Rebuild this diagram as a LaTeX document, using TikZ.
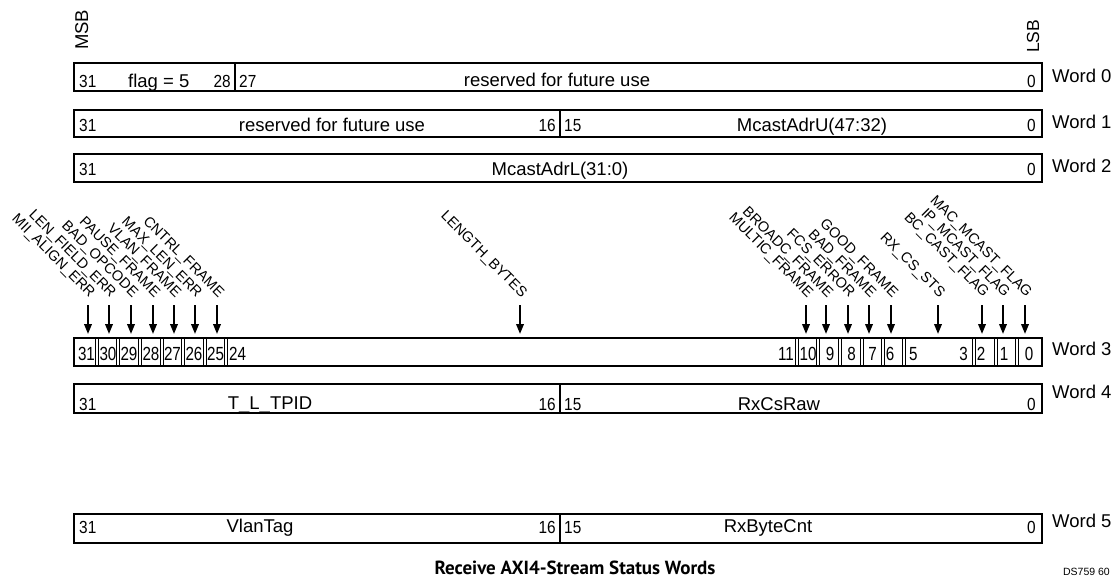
\documentclass[tikz,border=0pt]{standalone}
\usepackage{fontspec}
\setmainfont{Liberation Sans}
\newfontfamily\digfont{Liberation Sans}[FakeStretch=0.88]
\newfontfamily\digfontw{Liberation Sans}[FakeStretch=0.8]
\newfontfamily\capfont{PT Sans}
\usetikzlibrary{arrows.meta}
\begin{document}
\begin{tikzpicture}[x=1pt,y=-1pt,
  wordbox/.style={line width=2.2pt},
  divider/.style={line width=2.2pt},
  cellsep/.style={double, line width=1pt, double distance=1.1pt},
  main/.style={inner sep=0pt, font=\fontsize{18.5}{20}\selectfont},
  dig/.style={inner sep=0pt, font=\digfont\fontsize{17.5}{18}\selectfont},
  digw/.style={inner sep=0pt, font=\digfontw\fontsize{19}{20}\selectfont},
  rotlbl/.style={inner sep=0pt, rotate=-45, font=\fontsize{14.5}{15}\selectfont},
  arr/.style={line width=2pt, -{Triangle[length=10pt,width=7.5pt]}}]
\useasboundingbox (0,0) rectangle (1117,579);

% MSB / LSB
\node[main, rotate=90, anchor=base west] (msb) at (88,50) {MSB};
\node[main, rotate=90, anchor=base west, font=\fontsize{17.5}{19}\selectfont] (lsb) at (1039,53) {LSB};

% Word 0
\draw[wordbox] (74,63) rectangle (1042,91);
\draw[divider] (235,63) -- (235,91);
\node[dig, anchor=base west] (w0a) at (79,87) {31};
\node[main, anchor=base west] (w0b) at (128,87) {flag = 5};
\node[dig, anchor=base east] (w0c) at (231,87) {28};
\node[dig, anchor=base west] (w0d) at (239,87) {27};
\node[main, anchor=base] (w0e) at (557,86) {reserved for future use};
\node[dig, anchor=base east] (w0f) at (1036,87) {0};
\node[main, anchor=base west] (word0) at (1052,82) {Word 0};

% Word 1
\draw[wordbox] (74,110) rectangle (1042,137);
\draw[divider] (560,110) -- (560,137);
\node[dig, anchor=base west] (w1a) at (79,131) {31};
\node[main, anchor=base] (w1b) at (332,131) {reserved for future use};
\node[dig, anchor=base east] (w1c) at (556,131) {16};
\node[dig, anchor=base west] (w1d) at (564,131) {15};
\node[main, anchor=base] (w1e) at (812,131) {McastAdrU(47:32)};
\node[dig, anchor=base east] (w1f) at (1036,131) {0};
\node[main, anchor=base west] (word1) at (1052,128) {Word 1};

% Word 2
\draw[wordbox] (74,154) rectangle (1042,182);
\node[dig, anchor=base west] (w2a) at (79,175) {31};
\node[main, anchor=base] (w2b) at (560,175) {McastAdrL(31:0)};
\node[dig, anchor=base east] (w2c) at (1036,175) {0};
\node[main, anchor=base west] (word2) at (1052,172) {Word 2};

% Word 3
\foreach \xx in {97,118,140,162,183,205,226,797,818,840,862,883,904,974,996,1017}
  \draw[cellsep] (\xx,338) -- (\xx,366);
\draw[wordbox] (74,338) rectangle (1042,366);
\foreach \n/\xx in {31/86.5,30/108,29/129,28/151,27/172.5,26/194,25/215.5,10/808,9/830,8/851.5,7/872.5,6/890,2/981,1/1004,0/1029}
  \node[digw, anchor=base] (c\n) at (\xx,360) {\n};
\node[digw, anchor=base west] (c24) at (229,360) {24};
\node[digw, anchor=base east] (c11) at (794,360) {11};
\node[digw, anchor=base west] (c5) at (909,360) {5};
\node[digw, anchor=base east] (c3) at (968,360) {3};
\node[main, anchor=base west] (word3) at (1052,355) {Word 3};

% field labels and arrows of Word 3
\foreach \n/\xx/\txt in {
  b31/88/MII\_ALIGN\_ERR, b30/109/LEN\_FIELD\_ERR, b29/131/BAD\_OPCODE,
  b28/153/PAUSE\_FRAME, b27/174/VLAN\_FRAME, b26/195/MAX\_LEN\_ERR,
  b25/217/CNTRL\_FRAME, blen/520/LENGTH\_BYTES,
  b10/806/MULTIC\_FRAME, b9/826/BROADC\_FRAME, b8/848/FCS\_ERROR,
  b7/869/BAD\_FRAME, b6/891/GOOD\_FRAME, bcs/938/RX\_CS\_STS,
  b2/982/BC\_CAST\_FLAG, b1/1003/IP\_MCAST\_FLAG, b0/1025/MAC\_MCAST\_FLAG} {
  \node[rotlbl, anchor=base east] (L\n) at (\xx+1.5,298) {\txt};
  \coordinate (s\n) at (\xx,305);
  \coordinate (e\n) at (\xx,334);
  \draw[arr] (s\n) -- (e\n);
}

% Word 4
\draw[wordbox] (74,384) rectangle (1042,413);
\draw[divider] (560,384) -- (560,413);
\node[dig, anchor=base west] (w4a) at (79,410) {31};
\node[main, anchor=base] (w4b) at (270,409) {T\_L\_TPID};
\node[dig, anchor=base east] (w4c) at (556,410) {16};
\node[dig, anchor=base west] (w4d) at (564,410) {15};
\node[main, anchor=base] (w4e) at (779,410) {RxCsRaw};
\node[dig, anchor=base east] (w4f) at (1036,410) {0};
\node[main, anchor=base west] (word4) at (1052,398) {Word 4};

% Word 5
\draw[wordbox] (74,514) rectangle (1042,543);
\draw[divider] (560,514) -- (560,543);
\node[dig, anchor=base west] (w5a) at (79,533) {31};
\node[main, anchor=base] (w5b) at (260,532) {VlanTag};
\node[dig, anchor=base east] (w5c) at (556,533) {16};
\node[dig, anchor=base west] (w5d) at (564,533) {15};
\node[main, anchor=base] (w5e) at (768,532) {RxByteCnt};
\node[dig, anchor=base east] (w5f) at (1036,533) {0};
\node[main, anchor=base west] (word5) at (1052,527) {Word 5};

% caption
\node[inner sep=0pt, anchor=base, font=\capfont\bfseries\fontsize{19}{21}\selectfont] (cap) at (575,574) {Receive AXI4-Stream Status Words};
\node[inner sep=0pt, anchor=base east, font=\fontsize{10.5}{12}\selectfont] (ds) at (1110,575) {DS759 60};
\end{tikzpicture}
\end{document}
